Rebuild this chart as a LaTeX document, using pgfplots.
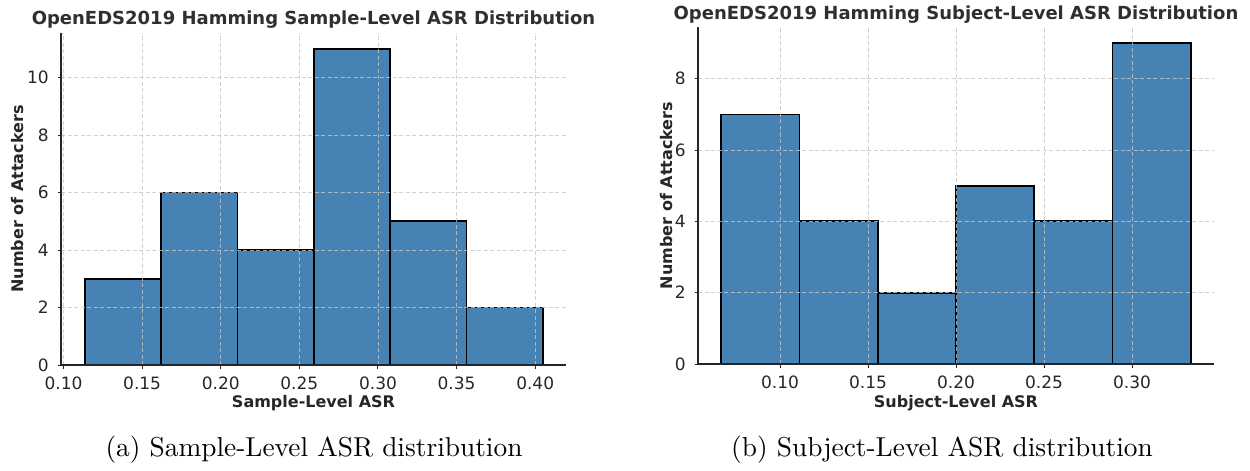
\documentclass[border=0pt]{standalone}
\usepackage{pgfplots}
\pgfplotsset{compat=1.18}
\usepackage{fontspec}
\newfontfamily\dejavu{DejaVu Sans}
\definecolor{steel}{HTML}{4682B4}
\definecolor{txt}{HTML}{262626}
\pgfplotsset{
  hist/.style={
    scale only axis,
    anchor=south west,
    axis on top,
    axis x line*=bottom,
    axis y line*=left,
    axis line style={txt, line width=0.5pt},
    grid=major,
    grid style={dash pattern=on 1.6pt off 1pt, gray!45, line width=0.3pt, opacity=0.8},
    tick align=outside,
    major tick length=1.4pt,
    tick style={txt, line width=0.4pt},
    font=\dejavu,
    tick label style={font=\dejavu\fontsize{6.8}{7.5}\selectfont, text=txt},
    /pgf/number format/assume math mode=true,
    xticklabel style={/pgf/number format/.cd, fixed, fixed zerofill, precision=2},
    yticklabel style={/pgf/number format/.cd, fixed, precision=0},
    every axis title shift=0pt,
    title style={font=\dejavu\bfseries\fontsize{7.2}{8.5}\selectfont, text=txt!90!gray, at={(axis description cs:0.5,1)}, anchor=base},
    label style={font=\dejavu\bfseries\fontsize{6.4}{7.5}\selectfont, text=txt},
    ymin=0,
  },
  bars/.style={ybar interval, fill=steel, draw=black, line width=0.7pt},
}
\begin{document}
\begin{tikzpicture}
\path[use as bounding box] (0,0) rectangle (500pt,188pt);
% Left histogram
\begin{axis}[hist,
  at={(24.4pt,42pt)}, width=202pt, height=132.8pt,
  xmin=0.0984, xmax=0.4196, ymax=11.55,
  xtick={0.10,0.15,0.20,0.25,0.30,0.35,0.40},
  ytick={0,2,4,6,8,10},
  title={OpenEDS2019 Hamming Sample-Level ASR Distribution},
  title style={yshift=3.6pt},
  xlabel={Sample-Level ASR},
  ylabel={Number of Attackers},
  xlabel style={at={(axis description cs:0.5,0)}, anchor=base, yshift=-16.8pt},
  ylabel style={at={([xshift=-17.2pt]axis description cs:0,0.5)}, anchor=center},
]
\addplot[bars] coordinates {
  (0.1136,3) (0.1621,6) (0.2107,4) (0.2592,11) (0.3077,5) (0.3563,2) (0.4048,2)
};
\end{axis}
% Right histogram
\begin{axis}[hist,
  at={(279.2pt,42.4pt)}, width=206.4pt, height=134.8pt,
  xmin=0.0534, xmax=0.3466, ymax=9.45,
  xtick={0.10,0.15,0.20,0.25,0.30},
  ytick={0,2,4,6,8},
  title={OpenEDS2019 Hamming Subject-Level ASR Distribution},
  title style={yshift=3.2pt},
  xlabel={Subject-Level ASR},
  ylabel={Number of Attackers},
  xlabel style={at={(axis description cs:0.5,0)}, anchor=base, yshift=-17.2pt},
  ylabel style={at={([xshift=-12.4pt]axis description cs:0,0.5)}, anchor=center},
]
\addplot[bars] coordinates {
  (0.06667,7) (0.11111,4) (0.15556,2) (0.2,5) (0.24444,4) (0.28889,9) (0.33333,9)
};
\end{axis}
\node[font=\fontsize{10.95}{13}\selectfont] at (125.6pt,8pt) {(a) Sample-Level ASR distribution};
\node[font=\fontsize{10.95}{13}\selectfont] at (376.8pt,8pt) {(b) Subject-Level ASR distribution};
\end{tikzpicture}
\end{document}
